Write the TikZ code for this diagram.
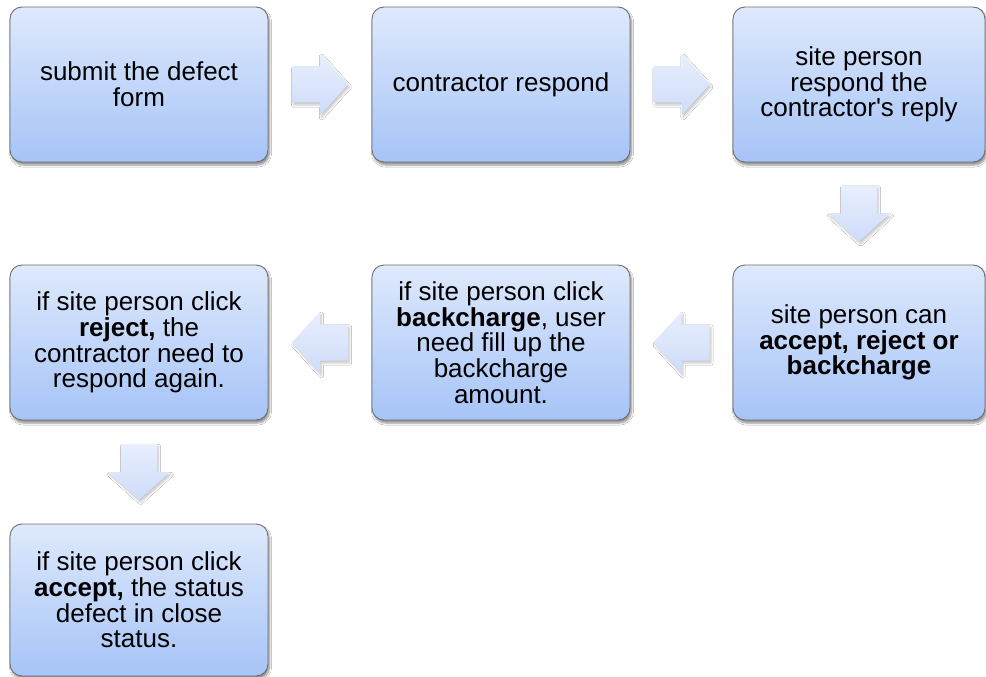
\documentclass[tikz,border=0pt]{standalone}
\usepackage{fontspec}
\setmainfont{Liberation Sans}[Ligatures=TeXOff]
\usetikzlibrary{calc,shadows.blur}
\definecolor{boxtop}{RGB}{222,233,252}
\definecolor{boxbot}{RGB}{166,196,247}
\definecolor{boxline}{RGB}{112,112,112}
\definecolor{arrtop}{RGB}{232,239,253}
\definecolor{arrbot}{RGB}{206,220,250}
\tikzset{
  stepbox/.style={draw=boxline, line width=0.9pt, rounded corners=12pt,
    top color=boxtop, bottom color=boxbot, align=center,
    minimum width=258pt, minimum height=155pt, inner sep=4pt,
    font=\fontsize{26}{25.7}\selectfont,
    blur shadow={shadow xshift=1.5pt, shadow yshift=-3pt, shadow blur steps=6, shadow opacity=45}},
  blockarrow/.style={draw=none, top color=arrtop, bottom color=arrbot,
    blur shadow={shadow xshift=1.5pt, shadow yshift=-2.5pt, shadow blur steps=5, shadow opacity=22}}
}
\begin{document}
\begin{tikzpicture}[x=1pt,y=-1pt]
\fill[white] (0,0) rectangle (986,677);
\useasboundingbox (0,0) rectangle (986,677);
\node[stepbox] (b1) at (139,84.5) {submit the defect\\form};
\node[stepbox] (b2) at (501,84.5) {contractor respond};
\node[stepbox, minimum width=252pt] (b3) at (859,84.5) {site person\\respond the\\contractor's reply};
\node[stepbox, minimum width=252pt] (b4) at (859,342.5) {site person can\\\textbf{accept, reject or}\\\textbf{backcharge}};
\node[stepbox] (b5) at (501,342.5) {if site person click\\\textbf{backcharge}, user\\need fill up the\\backcharge\\amount.};
\node[stepbox] (b6) at (139,342.5) {if site person click\\\textbf{reject,} the\\contractor need to\\respond again.};
\node[stepbox, minimum height=152pt] (b7) at (139,600) {if site person click\\\textbf{accept,} the status\\defect in close\\status.};
\coordinate (a1) at ($(b1.east)!0.5!(b2.west)$);
\coordinate (a2) at ($(b2.east)!0.5!(b3.west)$);
\coordinate (a3) at ($(b3.south)!0.5!(b4.north)$);
\coordinate (a4) at ($(b4.west)!0.5!(b5.east)$);
\coordinate (a5) at ($(b5.west)!0.5!(b6.east)$);
\coordinate (a6) at ($(b6.south)!0.5!(b7.north)$);
% right arrows
\foreach \a in {a1,a2}{
  \path[blockarrow] (\a) ++(-28,-18) -- ++(28,0) -- ++(0,-13) -- ++(28,31) -- ++(-28,31) -- ++(0,-13) -- ++(-28,0) -- cycle;
}
% left arrows
\foreach \a in {a4,a5}{
  \path[blockarrow] (\a) ++(28,-18) -- ++(-28,0) -- ++(0,-13) -- ++(-28,31) -- ++(28,31) -- ++(0,-13) -- ++(28,0) -- cycle;
}
% down arrows
\foreach \a in {a3,a6}{
  \path[blockarrow] (\a) ++(-18,-28) -- ++(0,28) -- ++(-13,0) -- ++(31,28) -- ++(31,-28) -- ++(-13,0) -- ++(0,-28) -- cycle;
}
\end{tikzpicture}
\end{document}
